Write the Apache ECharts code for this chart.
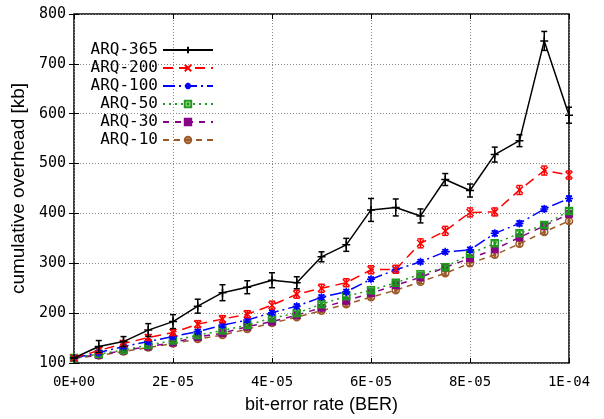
<!DOCTYPE html>
<html>
<head>
<meta charset="utf-8">
<script src="https://cdn.jsdelivr.net/npm/echarts@6/dist/echarts.min.js"></script>
<style>
  html, body { margin: 0; padding: 0; background: #fff; }
  #chart { width: 604px; height: 419px; }
</style>
</head>
<body>
<div id="chart"></div>
<script>
// bit-error rate steps
const ber = [0, 5e-6, 1e-5, 1.5e-5, 2e-5, 2.5e-5, 3e-5, 3.5e-5, 4e-5, 4.5e-5, 5e-5,
  5.5e-5, 6e-5, 6.5e-5, 7e-5, 7.5e-5, 8e-5, 8.5e-5, 9e-5, 9.5e-5, 1e-4]

const arq365 = [110, 133, 143, 166, 183, 214, 241, 252, 266, 261, 313, 337, 407, 412, 395, 468, 446, 518, 546, 746, 597]
const arq365Err = [0, 12, 10, 13, 14, 14, 16, 13, 15, 12, 10, 13, 23, 17, 14, 12, 13, 15, 12, 19, 16]
const arq200 = [110, 125, 139, 151, 161, 178, 188, 198, 216, 238, 250, 261, 287, 288, 340, 365, 402, 403, 447, 486, 477]
const arq200Err = [0, 6, 6, 6, 6, 7, 7, 7, 8, 8, 8, 8, 8, 8, 9, 9, 9, 8, 9, 9, 8]
const arq100 = [110, 121, 133, 143, 153, 163, 176, 186, 201, 214, 232, 243, 268, 287, 303, 323, 327, 360, 380, 409, 430]
const arq50 = [110, 118, 126, 136, 145, 156, 165, 176, 190, 200, 218, 234, 246, 261, 278, 292, 319, 340, 360, 377, 405]
const arq30 = [110, 116, 125, 133, 141, 152, 160, 173, 183, 196, 211, 225, 240, 256, 272, 292, 310, 328, 352, 375, 399]
const arq10 = [110, 115, 123, 131, 139, 148, 156, 168, 180, 192, 205, 218, 232, 246, 263, 280, 300, 317, 339, 363, 385]
const smallErr = [0, 4, 4, 4, 4, 4, 4, 4, 4, 4, 4, 4, 4, 4, 4, 4, 5, 5, 5, 5, 5]

const names = ['ARQ-365', 'ARQ-200', 'ARQ-100', 'ARQ-50', 'ARQ-30', 'ARQ-10']

const PLUS = 'path://M0,5L10,5M5,0L5,10'
const CROSS = 'path://M0,0L10,10M10,0L0,10'
const STAR = 'path://M0,5L10,5M5,0L5,10M1.5,1.5L8.5,8.5M8.5,1.5L1.5,8.5'
const BOXDOT = 'path://M0,0L10,0L10,10L0,10Z M4,4L6,4L6,6L4,6Z'
const RING = 'path://M5,0A5,5 0 1,1 5,10A5,5 0 1,1 5,0Z M5,3.5A1.5,1.5 0 1,1 5,6.5A1.5,1.5 0 1,1 5,3.5Z'

const styles = [
  { values: arq365, err: arq365Err, color: '#000000', symbol: PLUS, size: 8, fill: false, dash: 'solid' },
  { values: arq200, err: arq200Err, color: '#ff0000', symbol: CROSS, size: 7, fill: false, dash: [10, 6] },
  { values: arq100, err: smallErr, color: '#0000ff', symbol: STAR, size: 8, fill: false, dash: [12, 4, 2, 4] },
  { values: arq50, err: smallErr, color: '#1f9a1f', symbol: BOXDOT, size: 7, fill: false, dash: [2, 4] },
  { values: arq30, err: smallErr, color: '#880088', symbol: 'rect', size: 7, fill: true, dash: [6, 6] },
  { values: arq10, err: smallErr, color: '#9c5a28', symbol: RING, size: 7, fill: false, dash: [6, 5] },
]

function fmtBer(v) {
  if (v === 0) return '0E+00'
  const e = Math.floor(Math.log10(v) + 1e-9)
  const m = Math.round(v / Math.pow(10, e))
  const a = Math.abs(e)
  return m + 'E' + (e < 0 ? '-' : '+') + (a < 10 ? '0' + a : a)
}

const series = []
styles.forEach((s, i) => {
  series.push({
    name: names[i],
    type: 'line',
    data: ber.map((x, k) => [x, s.values[k]]),
    symbol: s.symbol,
    symbolSize: s.size,
    showAllSymbol: true,
    z: 10 - i,
    lineStyle: { color: s.color, width: 1.5, type: s.dash },
    itemStyle: s.fill
      ? { color: s.color, borderColor: s.color, borderWidth: 1 }
      : { color: 'rgba(0,0,0,0)', borderColor: s.color, borderWidth: 1.5 },
    emphasis: { disabled: true },
  })
  series.push({
    name: names[i],
    type: 'custom',
    z: 10 - i,
    data: ber.map((x, k) => [x, s.values[k] - s.err[k], s.values[k] + s.err[k]]),
    renderItem: (params, api) => {
      const lo = api.coord([api.value(0), api.value(1)])
      const hi = api.coord([api.value(0), api.value(2)])
      const w = 3
      const st = { stroke: s.color, lineWidth: 1.5 }
      return {
        type: 'group',
        children: [
          { type: 'line', shape: { x1: lo[0], y1: lo[1], x2: hi[0], y2: hi[1] }, style: st },
          { type: 'line', shape: { x1: lo[0] - w, y1: lo[1], x2: lo[0] + w, y2: lo[1] }, style: st },
          { type: 'line', shape: { x1: hi[0] - w, y1: hi[1], x2: hi[0] + w, y2: hi[1] }, style: st },
        ],
      }
    },
  })
})

const gridLine = { show: true, lineStyle: { color: '#888', type: [1, 2], width: 1 } }

const chart = echarts.init(document.getElementById('chart'))
chart.setOption({
  animation: false,
  backgroundColor: '#fff',
  grid: { left: 74, right: 35, top: 14, bottom: 56, show: true, borderColor: '#000', borderWidth: 1.5, backgroundColor: 'transparent' },
  legend: {
    data: names,
    orient: 'vertical',
    left: 85,
    top: 37,
    align: 'right',
    itemWidth: 50,
    itemHeight: 8,
    itemGap: 2,
    selectedMode: false,
    formatter: n => '{t|' + n + '}',
    textStyle: {
      color: '#000',
      rich: { t: { fontFamily: 'DejaVu Sans Mono', fontSize: 16, color: '#000', width: 68, align: 'right', lineHeight: 18 } },
    },
  },
  xAxis: [
    {
      type: 'value', min: 0, max: 1e-4, interval: 2e-5,
      name: 'bit-error rate (BER)', nameLocation: 'middle', nameGap: 33,
      nameTextStyle: { fontFamily: 'Liberation Sans', fontSize: 18, color: '#000' },
      axisLine: { show: false },
      axisTick: { show: true, inside: true, length: 5, lineStyle: { color: '#000' } },
      axisLabel: { formatter: fmtBer, fontFamily: 'DejaVu Sans Mono', fontSize: 14, color: '#000', margin: 12 },
      splitLine: gridLine,
    },
    {
      type: 'value', min: 0, max: 1e-4, interval: 2e-5, position: 'top',
      axisLine: { show: false },
      axisTick: { show: true, inside: true, length: 5, lineStyle: { color: '#000' } },
      axisLabel: { show: false }, splitLine: { show: false },
    },
  ],
  yAxis: [
    {
      type: 'value', min: 100, max: 800, interval: 100,
      name: 'cumulative overhead [kb]', nameLocation: 'middle', nameGap: 42,
      nameTextStyle: { fontFamily: 'Liberation Sans', fontSize: 19, color: '#000' },
      axisLine: { show: false },
      axisTick: { show: true, inside: true, length: 5, lineStyle: { color: '#000' } },
      axisLabel: { fontFamily: 'DejaVu Sans Mono', fontSize: 15, color: '#000', margin: 8 },
      splitLine: gridLine,
    },
    {
      type: 'value', min: 100, max: 800, interval: 100, position: 'right',
      axisLine: { show: false },
      axisTick: { show: true, inside: true, length: 5, lineStyle: { color: '#000' } },
      axisLabel: { show: false }, splitLine: { show: false },
    },
  ],
  series,
})
</script>
</body>
</html>
